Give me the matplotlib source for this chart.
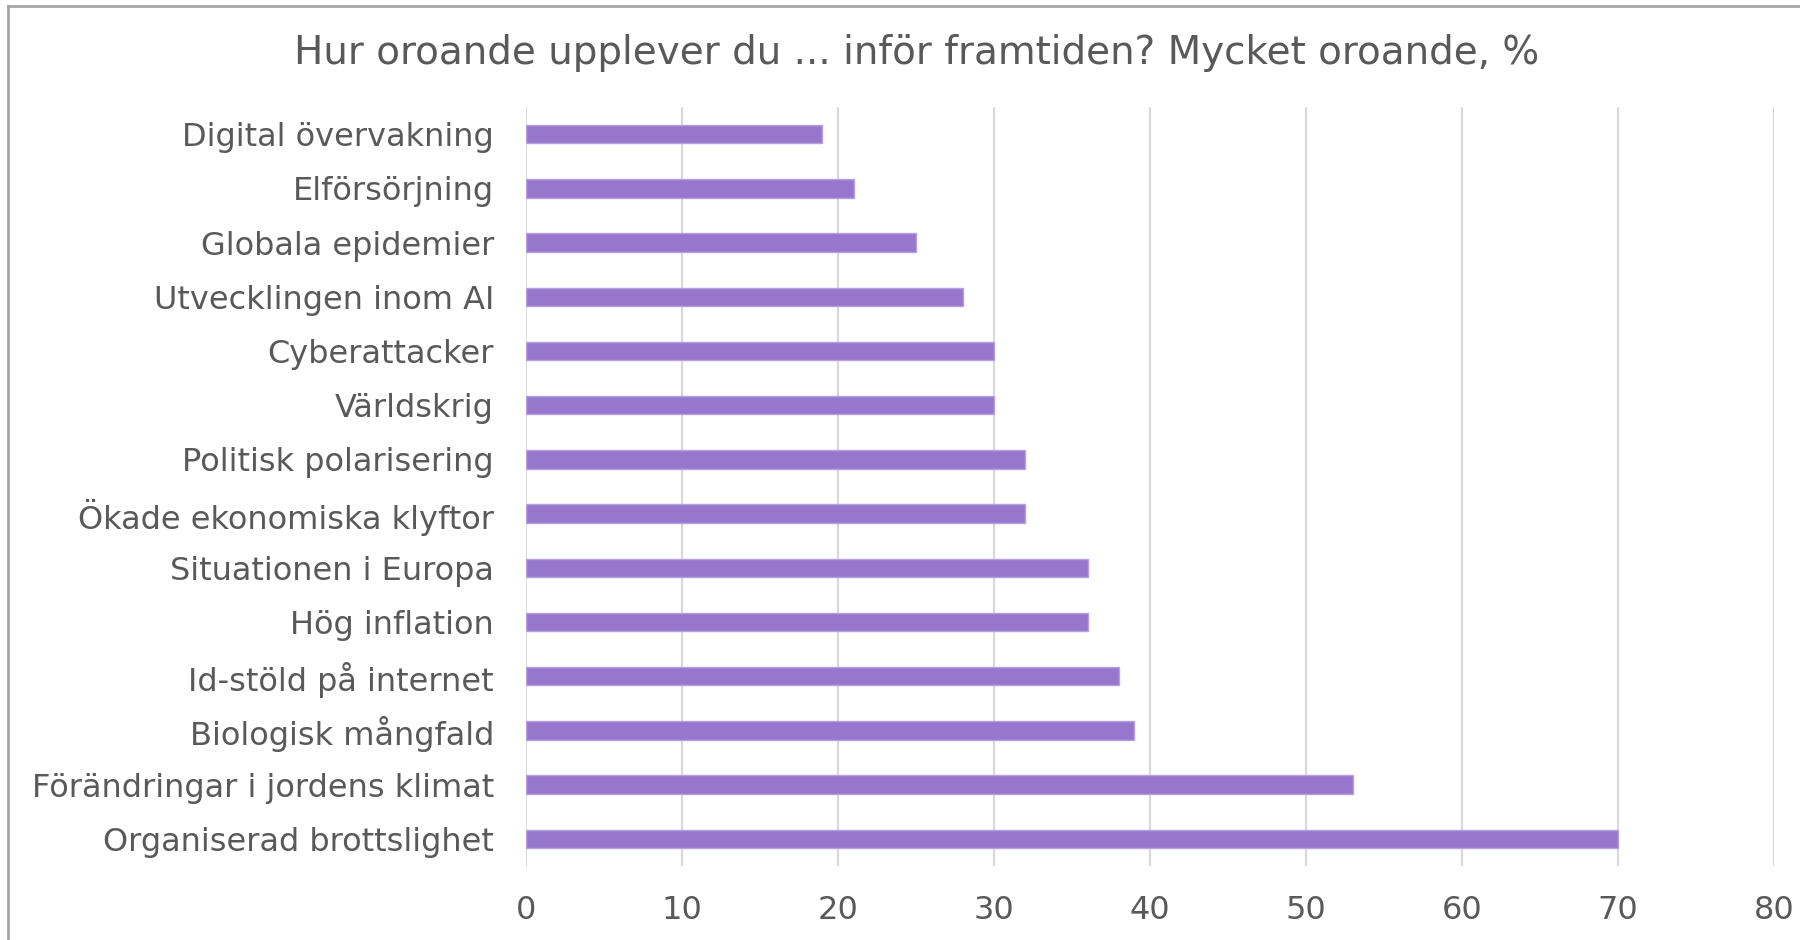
import matplotlib
matplotlib.use('Agg')
import matplotlib.pyplot as plt
from matplotlib.lines import Line2D

# data, top to bottom as in the chart
categories = ['Digital övervakning', 'Elförsörjning', 'Globala epidemier',
              'Utvecklingen inom AI', 'Cyberattacker', 'Världskrig',
              'Politisk polarisering', 'Ökade ekonomiska klyftor',
              'Situationen i Europa', 'Hög inflation', 'Id-stöld på internet',
              'Biologisk mångfald', 'Förändringar i jordens klimat',
              'Organiserad brottslighet']
values = [19, 21, 25, 28, 30, 30, 32, 32, 36, 36, 38, 39, 53, 70]
xticks = [0, 10, 20, 30, 40, 50, 60, 70, 80]

title = 'Hur oroande upplever du ... inför framtiden? Mycket oroande, %'
txt = '#595959'

plt.rcParams['font.family'] = ['DejaVu Sans']

fig = plt.figure(figsize=(18, 9.4), dpi=100)
ax = fig.add_axes([0.2922, 0.0787, 0.6934, 0.8075])

pos = list(range(len(categories)))
ax.barh(pos, values, height=0.34, color='#9777cd', edgecolor='#b7a0e0', linewidth=1, zorder=3)

ax.set_ylim(len(categories) - 0.5, -0.5)
ax.set_xlim(0, 80)
ax.set_xticks(xticks)
ax.set_yticks(pos)
ax.set_yticklabels(categories)

ax.grid(axis='x', color='#d9d9d9', linewidth=1.5, zorder=0)
ax.grid(axis='y', visible=False)
for s in ax.spines.values():
    s.set_visible(False)
ax.tick_params(axis='x', length=0, pad=21, labelsize=23, labelcolor=txt)
ax.tick_params(axis='y', length=0, pad=23, labelsize=23, labelcolor=txt)

fig.text(0.509, 0.944, title, ha='center', va='center', fontsize=28, color=txt)

# frame of the chart area (only left and top edge visible)
fig.add_artist(Line2D([0.0045, 0.0045], [0, 0.9936], transform=fig.transFigure, color='#a6a6a6', lw=2))
fig.add_artist(Line2D([0.0045, 1], [0.9936, 0.9936], transform=fig.transFigure, color='#a6a6a6', lw=2))

fig.savefig('out.png', dpi=100)
